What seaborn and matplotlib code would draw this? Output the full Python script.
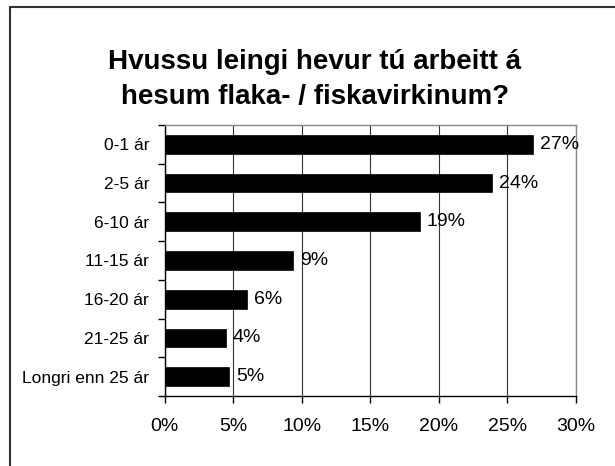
import numpy as np
import matplotlib
matplotlib.use("Agg")
import matplotlib.pyplot as plt
from matplotlib.lines import Line2D
from matplotlib.ticker import FuncFormatter, FixedLocator
import seaborn as sns

# ==================== data ====================
categories = ["0-1 ár", "2-5 ár", "6-10 ár", "11-15 ár", "16-20 ár", "21-25 ár", "Longri enn 25 ár"]
values = [26.9, 23.9, 18.6, 9.4, 6.0, 4.45, 4.7]   # prosent
x_ticks = [0, 5, 10, 15, 20, 25, 30]
title = "Hvussu leingi hevur tú arbeitt á\nhesum flaka- / fiskavirkinum?"

sns.set_style("white")
plt.rcParams['font.family'] = ['Liberation Sans', 'DejaVu Sans']
plt.rcParams['text.color'] = 'black'
plt.rcParams['xtick.color'] = 'black'
plt.rcParams['ytick.color'] = 'black'

fig = plt.figure(figsize=(6.15, 4.66), dpi=100)
ax = fig.add_axes([0.2675, 0.150, 0.669, 0.582])

sns.barplot(x=values, y=categories, orient="h", color="black", width=0.48,
            saturation=1, edgecolor="black", linewidth=0.5, ax=ax, zorder=3)

# value labels at bar ends
ax.bar_label(ax.containers[0], labels=[f"{v:.0f}%" for v in values],
             padding=5, fontsize=14, color="black")

ax.set_xlim(0, 30)
ax.set_ylim(len(categories) - 0.5, -0.5)
ax.xaxis.set_major_locator(FixedLocator(x_ticks))
ax.xaxis.set_major_formatter(FuncFormatter(lambda v, p: f"{v:.0f}%"))
ax.grid(axis="x", color="#333333", linewidth=0.8, zorder=0)
ax.set_axisbelow(True)
ax.set_xlabel("")
ax.set_ylabel("")

# y ticks between categories (Excel style)
ax.yaxis.set_minor_locator(FixedLocator(np.arange(len(categories) + 1) - 0.5))
ax.tick_params(axis="y", which="major", length=0, pad=11, labelsize=12.5, labelcolor="black")
ax.tick_params(axis="y", which="minor", length=5, width=1, color="black", direction="out", left=True)
ax.tick_params(axis="x", which="major", length=5, width=1, color="black", direction="out",
               bottom=True, pad=11, labelsize=14, labelcolor="black")

for side in ["left", "bottom"]:
    ax.spines[side].set_color("black")
    ax.spines[side].set_linewidth(1)
for side in ["top", "right"]:
    ax.spines[side].set_visible(True)
    ax.spines[side].set_color("#888888")
    ax.spines[side].set_linewidth(1)

fig.text(0.512, 0.829, title, ha="center", va="center", fontsize=20,
         fontweight="bold", linespacing=1.45, color="black")

# chart area border (cropped on right and bottom)
fig.add_artist(Line2D([0.0163, 0.0163], [0.0, 0.985], color="#333333", linewidth=1.5))
fig.add_artist(Line2D([0.0163, 1.0], [0.985, 0.985], color="#333333", linewidth=1.5))

fig.savefig("out.png", dpi=100)
